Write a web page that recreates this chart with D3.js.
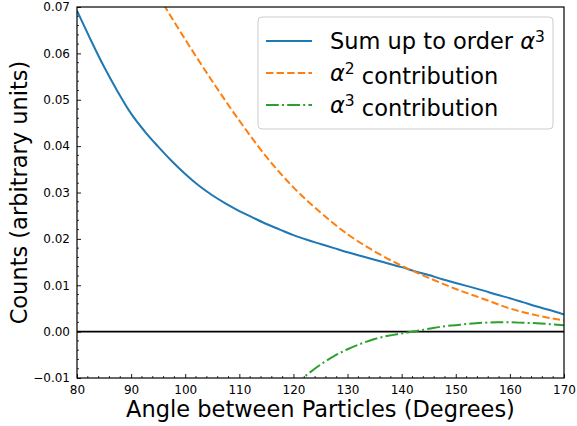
<!DOCTYPE html>
<html>
<head>
<meta charset="utf-8">
<script src="https://cdn.jsdelivr.net/npm/d3@7"></script>
<style>
  body { margin: 0; background: #fff; }
  #chart { width: 577px; height: 426px; }
  text { font-family: "DejaVu Sans", sans-serif; fill: #000; }
</style>
</head>
<body>
<div id="chart"></div>
<script>
// angles and values
const sumAngles = [80, 82.5, 85, 87.5, 90, 92.5, 95, 97.5, 100, 102.5, 105, 107.5, 110, 112.5, 115, 117.5, 120,
    122.5, 125, 127.5, 130, 132.5, 135, 137.5, 140, 142.5, 145, 147.5, 150, 152.5, 155, 157.5, 160, 162.5, 165, 167.5, 170];
const sumValues = [0.0692, 0.0630, 0.0571, 0.0518, 0.0470, 0.0432, 0.0399, 0.0368, 0.0340, 0.0315, 0.0294, 0.0276, 0.0260,
    0.0246, 0.0232, 0.0220, 0.0208, 0.0198, 0.0189, 0.0180, 0.0171, 0.0163, 0.0155, 0.0147, 0.0139, 0.0130, 0.0122,
    0.0113, 0.0105, 0.0097, 0.0089, 0.0080, 0.0072, 0.0063, 0.0054, 0.0046, 0.0037];

const a2Angles = [95, 100, 105, 110, 115, 120, 125, 130, 135, 140, 145, 150, 155, 160, 165, 170];
const a2Values = [0.0725, 0.0630, 0.0540, 0.0455, 0.0377, 0.0311, 0.0257, 0.0210, 0.0173, 0.0142, 0.0116, 0.0092,
    0.0071, 0.0050, 0.0035, 0.0024];

const a3Angles = [120, 122.5, 125, 127.5, 130, 132.5, 135, 137.5, 140, 142.5, 145, 147.5, 150, 152.5, 155, 157.5, 160, 162.5, 165, 167.5, 170];
const a3Values = [-0.0118, -0.0093, -0.0071, -0.0053, -0.0038, -0.0026, -0.0016, -0.0009, -0.0004, 0.0001, 0.0006,
    0.0011, 0.0014, 0.0017, 0.0019, 0.0020, 0.0020, 0.0019, 0.0018, 0.0016, 0.0014];

const xTicks = [80, 90, 100, 110, 120, 130, 140, 150, 160, 170];
const yTicks = [-0.01, 0.00, 0.01, 0.02, 0.03, 0.04, 0.05, 0.06, 0.07];

const seriesNames = ['Sum up to order', 'contribution', 'contribution'];

const margin = { top: 7, right: 13, bottom: 48, left: 77 };
const width = 577 - margin.left - margin.right;
const height = 426 - margin.top - margin.bottom;

const svg = d3.select('#chart')
    .append('svg')
    .attr('width', 577)
    .attr('height', 426);

const g = svg.append('g')
    .attr('transform', `translate(${margin.left},${margin.top})`);

const x = d3.scaleLinear().domain([80, 170]).range([0, width]);
const y = d3.scaleLinear().domain([-0.01, 0.07]).range([height, 0]);

g.append('clipPath').attr('id', 'clip')
    .append('rect').attr('width', width).attr('height', height);

// minor ticks
const xMinor = d3.range(80, 170.01, 2).filter(v => v % 10 !== 0);
const yMinor = d3.range(-0.01, 0.0701, 0.002).filter(v => Math.abs(Math.round(v * 100) - v * 100) > 1e-6);

g.selectAll('.xminor').data(xMinor).enter().append('line')
    .attr('x1', d => x(d)).attr('x2', d => x(d))
    .attr('y1', height).attr('y2', height - 2)
    .attr('stroke', '#000').attr('stroke-width', 0.8);
g.selectAll('.yminor').data(yMinor).enter().append('line')
    .attr('y1', d => y(d)).attr('y2', d => y(d))
    .attr('x1', 0).attr('x2', 2)
    .attr('stroke', '#000').attr('stroke-width', 0.8);

// major axes, ticks inward
const xAxis = g.append('g')
    .attr('transform', `translate(0,${height})`)
    .call(d3.axisBottom(x).tickValues(xTicks).tickSizeInner(-4).tickSizeOuter(0).tickPadding(7).tickFormat(d3.format('d')));
const yAxis = g.append('g')
    .call(d3.axisLeft(y).tickValues(yTicks).tickSizeInner(-4).tickSizeOuter(0).tickPadding(7).tickFormat(d => d3.format('.2f')(d).replace('-', '\u2212')));

[xAxis, yAxis].forEach(a => {
    a.select('.domain').remove();
    a.selectAll('line').attr('stroke', '#000').attr('stroke-width', 0.9);
    a.selectAll('text').style('font-size', '12px').style('font-family', '"DejaVu Sans", sans-serif');
});

// zero line
g.append('line')
    .attr('x1', 0).attr('x2', width)
    .attr('y1', y(0)).attr('y2', y(0))
    .attr('stroke', '#000').attr('stroke-width', 1.6);

const line = d3.line()
    .x(d => x(d[0]))
    .y(d => y(d[1]))
    .curve(d3.curveMonotoneX);

const curves = [
    { pts: d3.zip(sumAngles, sumValues), color: '#1f77b4', dash: null },
    { pts: d3.zip(a2Angles, a2Values), color: '#ff7f0e', dash: '7.4,3.2' },
    { pts: d3.zip(a3Angles, a3Values), color: '#2ca02c', dash: '12.8,3.2,2,3.2' }
];

g.append('g').attr('clip-path', 'url(#clip)')
    .selectAll('path').data(curves).enter().append('path')
    .attr('d', d => line(d.pts))
    .attr('fill', 'none')
    .attr('stroke', d => d.color)
    .attr('stroke-width', 2)
    .attr('stroke-dasharray', d => d.dash);

// frame
g.append('rect')
    .attr('width', width).attr('height', height)
    .attr('fill', 'none').attr('stroke', '#000').attr('stroke-width', 1.2);

// axis labels
svg.append('text')
    .attr('x', margin.left + width / 2).attr('y', 417)
    .attr('text-anchor', 'middle')
    .style('font-size', '22.5px')
    .text('Angle between Particles (Degrees)');

svg.append('text')
    .attr('transform', `translate(27,${margin.top + height / 2}) rotate(-90)`)
    .attr('text-anchor', 'middle')
    .style('font-size', '22.5px')
    .text('Counts (arbitrary units)');

// legend
const legend = svg.append('g').attr('transform', 'translate(258,17)');
legend.append('rect')
    .attr('width', 295).attr('height', 112).attr('rx', 4)
    .attr('fill', 'rgba(255,255,255,0.8)')
    .attr('stroke', '#cccccc').attr('stroke-width', 1);

const rows = legend.selectAll('.row').data(curves).enter().append('g')
    .attr('transform', (d, i) => `translate(0,${24 + i * 32})`);
rows.append('line')
    .attr('x1', 8).attr('x2', 54)
    .attr('stroke', d => d.color).attr('stroke-width', 2)
    .attr('stroke-dasharray', d => d.dash);

const labels = rows.append('text')
    .attr('x', 72).attr('dy', '0.35em')
    .style('font-size', '22.5px');

labels.each(function(d, i) {
    const t = d3.select(this);
    if (i === 0) {
        t.append('tspan').text(seriesNames[0] + ' ');
        t.append('tspan').style('font-style', 'italic').text('\u03b1');
        t.append('tspan').attr('dy', '-0.45em').style('font-size', '15.5px').text('3');
    } else {
        t.append('tspan').style('font-style', 'italic').text('\u03b1');
        t.append('tspan').attr('dy', '-0.45em').style('font-size', '15.5px').text(i === 1 ? '2' : '3');
        t.append('tspan').attr('dy', '0.45em').text(' ' + seriesNames[i]);
    }
});
</script>
</body>
</html>
